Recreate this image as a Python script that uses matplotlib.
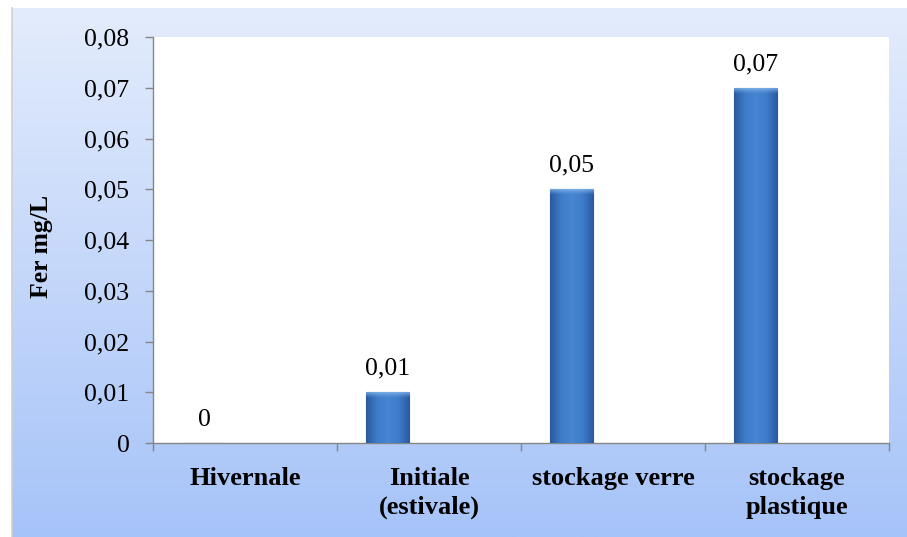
import numpy as np
import matplotlib.pyplot as plt
from matplotlib.colors import LinearSegmentedColormap

categories = ['Hivernale', 'Initiale\n(estivale)', 'stockage verre', 'stockage\nplastique']
values = [0.0, 0.01, 0.05, 0.07]
value_labels = ['0', '0,01', '0,05', '0,07']
y_ticks = [0.0, 0.01, 0.02, 0.03, 0.04, 0.05, 0.06, 0.07, 0.08]
y_tick_labels = ['0', '0,01', '0,02', '0,03', '0,04', '0,05', '0,06', '0,07', '0,08']

plt.rcParams['font.family'] = ['Liberation Serif', 'DejaVu Serif']

W, H = 907, 537
fig = plt.figure(figsize=(W / 100, H / 100), dpi=100)
fig.patch.set_facecolor('white')

# fond dégradé de la zone de graphique (style Excel)
bg = fig.add_axes([12 / W, 0, (W - 12) / W, (H - 8) / H], zorder=-5)
bg_cmap = LinearSegmentedColormap.from_list('bg', ['#a6c3f8', '#e3ecfc'])
grad = np.linspace(0, 1, 256).reshape(-1, 1)
bg.imshow(grad, cmap=bg_cmap, aspect='auto', origin='lower', extent=[0, 1, 0, 1])
bg.set_xlim(0, 1)
bg.set_ylim(0, 1)
bg.axis('off')
fig.add_artist(plt.Line2D([11.5 / W, 11.5 / W], [0, (H - 8) / H],
                          transform=fig.transFigure, color='#d0d0d0', lw=1.2))

ax = fig.add_axes([153 / W, (H - 443) / H, (889 - 153) / W, (443 - 37) / H])
ax.set_facecolor('white')

x = np.arange(len(categories))
bar_offset = -0.223
bar_width = 0.234
bars = ax.bar(x + bar_offset, values, width=bar_width, color='#3a76c6',
              edgecolor='#2c5c9c', linewidth=0.8, zorder=3)

# dégradé horizontal dans chaque barre
bar_cmap = LinearSegmentedColormap.from_list('bar', ['#2a5a9e', '#3e7ccb', '#4886d2', '#3e7ccb', '#2a5a9e'])
hgrad = np.linspace(0, 1, 64).reshape(1, -1)
for patch in bars:
    if patch.get_height() <= 0:
        continue
    x0, y0 = patch.get_x(), patch.get_y()
    w, h = patch.get_width(), patch.get_height()
    im = ax.imshow(hgrad, cmap=bar_cmap, aspect='auto',
                   extent=[x0, x0 + w, y0, y0 + h], zorder=3.5)
    im.set_clip_path(patch)
    top = ax.imshow(np.linspace(0, 1, 16).reshape(-1, 1), cmap=LinearSegmentedColormap.from_list(
        't', [(0.45, 0.65, 0.9, 0.0), (0.55, 0.75, 0.95, 0.9)]), aspect='auto', origin='lower',
        extent=[x0, x0 + w, y0 + h - 0.0012, y0 + h], zorder=3.6)
    top.set_clip_path(patch)

for xi, v, lab in zip(x, values, value_labels):
    ax.annotate(lab, (xi + bar_offset, v), textcoords='offset points', xytext=(0, 9),
                ha='center', va='bottom', fontsize=18.5, color='black')

ax.set_xlim(-0.5, len(categories) - 0.5)
ax.set_ylim(0, 0.08)
ax.set_yticks(y_ticks)
ax.set_yticklabels(y_tick_labels, fontsize=18.5)
ax.set_xticks(x)
ax.set_xticklabels(categories, fontsize=19, fontweight='bold', linespacing=1.35)
ax.set_xticks(np.arange(-0.5, len(categories)), minor=True)
ax.tick_params(axis='x', which='major', length=0, pad=17)
ax.tick_params(axis='x', which='minor', length=6, color='#868686', width=1)
ax.tick_params(axis='y', length=6, color='#868686', width=1, pad=11)

ax.set_ylabel('Fer mg/L', fontsize=18.5, fontweight='bold')
ax.yaxis.set_label_coords(-0.136, 0.483)

for side in ['top', 'right']:
    ax.spines[side].set_visible(False)
for side in ['left', 'bottom']:
    ax.spines[side].set_color('#868686')
    ax.spines[side].set_linewidth(1)

plt.savefig('out.png', dpi=100)
